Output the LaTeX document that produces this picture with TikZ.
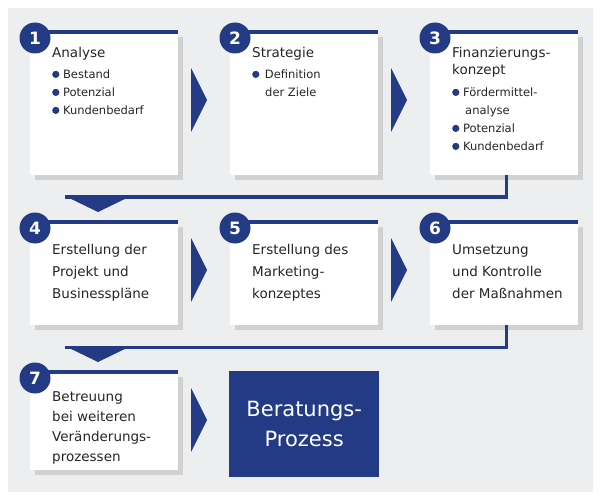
\documentclass[tikz,border=0pt]{standalone}
\usepackage{fontspec}
\setmainfont{DejaVu Sans}
\usepackage{tikz}
\usetikzlibrary{positioning}
\definecolor{navy}{HTML}{233A85}
\definecolor{bggray}{HTML}{EDEEEF}
\tikzset{
  stepcard/.style={draw=none,fill=white,minimum width=148pt,minimum height=#1,anchor=north west,inner sep=0pt},
  shade/.style={fill=black!18},
  topbar/.style={navy,line width=3.5pt},
  num/.style={circle,fill=navy,minimum size=31pt,inner sep=0pt,text=white,font=\fontsize{17}{17}\selectfont\bfseries},
  cardtext/.style={anchor=north west,align=left,font=\fontsize{13.5}{17}\selectfont,text=black!85,inner sep=0pt},
  bul/.style={anchor=north west,align=left,font=\fontsize{11.5}{18}\selectfont,text=black!85,inner sep=0pt},
  chevron/.style={fill=navy},
  link/.style={navy,line width=3pt}
}
\newcommand{\dotitem}{\textcolor{navy}{\raisebox{0.15ex}{\tikz\fill (0,0) circle (3.6pt);}}\ }
\begin{document}
\begin{tikzpicture}[x=1pt,y=-1pt]
\useasboundingbox (0,0) rectangle (600,500);
\fill[white] (0,0) rectangle (600,500);
\fill[bggray] (8,8) rectangle (593,492);
% cards: shadows
\foreach \cx/\cy/\ch in {30/32/143,230/32/143,430/32/143,30/222/103,230/222/103,430/222/103,30/372/98}
  \fill[shade] (\cx+5,\cy+5) rectangle ++(148,\ch);
% cards
\node[stepcard=143pt] (c1) at (30,32) {};
\node[stepcard=143pt] (c2) at (230,32) {};
\node[stepcard=143pt] (c3) at (430,32) {};
\node[stepcard=103pt] (c4) at (30,222) {};
\node[stepcard=103pt] (c5) at (230,222) {};
\node[stepcard=103pt] (c6) at (430,222) {};
\node[stepcard=98pt] (c7) at (30,372) {};
\node[fill=navy,minimum width=150pt,minimum height=106pt,anchor=north west,inner sep=0pt,
  text=white,align=center,font=\fontsize{21}{30}\selectfont] (final) at (229,371) {Beratungs-\\Prozess};
% top bars and numbers
\foreach \c/\n in {c1/1,c2/2,c3/3,c4/4,c5/5,c6/6,c7/7}{
  \draw[topbar] (\c.north west) -- (\c.north east);
  \node[num] at ([xshift=5pt,yshift=-6pt]\c.north west) {\n};
}
% texts
\node[cardtext] at (52,47) {Analyse};
\node[bul] at (52,70) {\dotitem Bestand\\\dotitem Potenzial\\\dotitem Kundenbedarf};
\node[cardtext] at (252,47) {Strategie};
\node[bul] at (252,70) {\dotitem\,Definition\\\hspace*{13pt}der Ziele};
\node[cardtext] at (452,47) {Finanzierungs-\\konzept};
\node[bul] at (452,88) {\dotitem Fördermittel-\\\hspace*{13pt}analyse\\\dotitem Potenzial\\\dotitem Kundenbedarf};
\node[cardtext,font=\fontsize{13.5}{22}\selectfont] at (52,244) {Erstellung der\\Projekt und\\Businesspläne};
\node[cardtext,font=\fontsize{13.5}{22}\selectfont] at (252,244) {Erstellung des\\Marketing-\\konzeptes};
\node[cardtext,font=\fontsize{13.5}{22}\selectfont] at (452,244) {Umsetzung\\und Kontrolle\\der Maßnahmen};
\node[cardtext,font=\fontsize{13.5}{20}\selectfont] at (52,391) {Betreuung\\bei weiteren\\Veränderungs-\\prozessen};
% chevrons
\foreach \ax/\ay in {191/100,391/100,191/270,391/270,191/420}
  \fill[chevron] (\ax,\ay-32) -- (\ax+16,\ay) -- (\ax,\ay+32) -- cycle;
% links between rows
\coordinate (k1) at (506,197);
\coordinate (k2) at (506,347);
\draw[link] (c3.south -| k1) -- (k1) -- (k1 -| 65,0);
\fill[chevron] (65,196) -- (131,196) -- (98,212) -- cycle;
\draw[link] (c6.south -| k2) -- (k2) -- (k2 -| 65,0);
\fill[chevron] (65,346) -- (131,346) -- (98,362) -- cycle;
\end{tikzpicture}
\end{document}
